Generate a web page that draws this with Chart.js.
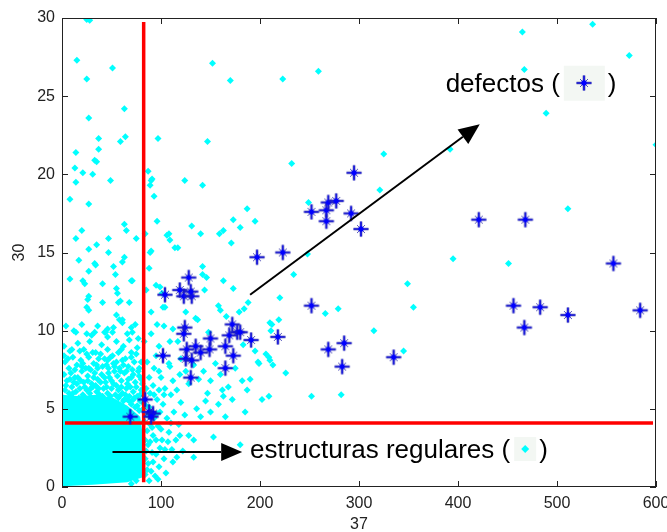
<!DOCTYPE html>
<html>
<head>
<meta charset="utf-8">
<script src="https://cdn.jsdelivr.net/npm/chart.js@4.4.1/dist/chart.umd.min.js"></script>
<style>
html,body{margin:0;padding:0;background:#fff}
#wrap{width:667px;height:532px}
</style>
</head>
<body>
<div id="wrap"><canvas id="scatter" width="667" height="532"></canvas></div>
<script>
// axis ticks
const xTicks = [0,100,200,300,400,500,600]
const yTicks = [0,5,10,15,20,25,30]

// defects (blue stars), [x, y]
const defectos = [
[69,4.5],[84,5.6],[88,4.8],[92,4.7],[90,4.5],
[102,8.4],[104,12.3],[119,12.6],[128,13.4],[123,12.2],[131,12.2],[130,12.5],
[124,10.2],[123,9.8],[126,8.8],[135,9.0],[140,8.6],[125,8.2],[131,8.1],[130,7.0],
[150,9.5],[149,8.8],[165,9.0],[173,8.4],[165,7.6],[172,10.4],[169,9.7],[177,9.9],[180,9.9],[191,9.4],[218,9.6],
[197,14.7],[223,15.0],
[252,17.6],[267,17.0],[267,17.7],[269,18.2],[277,18.3],[292,17.5],[302,16.5],[295,20.1],
[252,11.6],[269,8.8],[285,9.2],[283,7.7],[335,8.3],
[421,17.1],[468,17.1],[557,14.3],[456,11.6],[483,11.5],[511,11.0],[467,10.2],[584,11.3]
]

// regular structures (cyan diamonds): isolated points far from the cloud
const regularesDispersos = [
[25,29.9],[27,29.95],[28,29.85],[15,27.3],[51,26.8],[25,26.1],[63,24.2],[27,23.6],[37,22.3],[59,22.1],
[64,22.4],[97,22.3],[14,21.4],[37,21.6],[33,20.9],[35,20.8],[13,20.4],[21,20.1],[31,20.0],[49,19.6],
[14,19.5],[87,20.2],[91,19.7],[89,19.3],[8,18.4],[27,18.1],
[152,27.1],[170,26.0],[147,22.1],[223,26.1],[259,26.6],[232,20.7],[325,21.3],[124,19.6],[142,19.3],[321,19.0],
[465,29.1],[536,29.6],[467,26.7],[573,27.6],[489,23.9],[392,21.6],[600,21.9],[511,17.8],[395,14.6],[451,14.3],
[349,13.0],[355,11.5],[345,8.7],[249,18.2],[187,17.8],[195,17.0],[180,16.6],[248,14.9],[234,13.6],[220,12.1],
[188,11.8],[184,11.4],[279,11.4],[266,11.1],[210,10.5],[219,10.7],[315,10.0],[206,8.5],[210,8.1],[199,7.9],
[226,7.3],[202,5.6],[209,5.8],[252,5.8],[282,5.9]
]

// regular structures: middle band above the cloud
const regularesMedios = [
[90,19.6],[173,17.1],[63,16.8],[65,16.4],[131,16.7],[140,16.2],[108,16.2],[109,15.8],[159,16.2],[163,16.4],
[47,15.9],[75,15.9],[171,15.6],[117,15.3],[90,15.1],[47,15.0],[63,14.7],[61,14.4],[52,14.1],[142,14.1],
[142,13.6],[71,13.2],[99,12.8],[101,12.4],[146,13.4],[163,13.2],[173,12.7],[41,11.8],[57,11.8],[68,11.8],
[102,11.5],[55,11.0],[58,10.7],[61,10.5],[158,11.6],[160,11.3],[166,10.9],[179,11.2],[137,10.7],[44,9.9],
[46,10.1],[51,9.9],[71,9.9],[212,10.4],[211,10.0],[109,9.3],[117,9.3],[60,8.8],[70,8.6],[49,8.3],
[46,8.1],[52,7.9],[209,8.3],[213,7.8],[93,7.6],[98,7.4],[109,7.7],[119,7.2],[160,7.2],[162,6.2],
[182,6.8],[198,8.0],[147,6.0],[163,5.8],[187,6.2],
[20,16.4],[14,15.9],[35,15.5],[27,15.2],[17,14.5],[33,14.3],[34,14.2],[27,13.8],[54,13.6],[8,13.3],
[21,13.2],[23,13.0],[41,13.0],[70,13.2],[55,12.7],[56,12.4],[27,12.2],[26,12.0],[25,11.5],[27,11.3],
[59,11.9],[61,10.7],[70,10.2],[14,9.9],[25,9.8],[33,9.9],[43,9.9],[77,9.5],[89,15.0],[106,16.1],
[95,12.9],[104,11.5],[135,10.8],[144,12.6],[114,15.3],[93,18.6],[96,17.0],[84,16.2],[88,14.0],[85,12.6],
[90,11.2],[96,10.4]
]

// regular structures: fringe around the dense cloud
const regularesBorde = [
[4,10.3],[12,10.0],[20,10.4],[30,9.7],[36,10.3],[46,9.6],[52,10.2],[66,9.8],[74,10.4],
[2,9.0],[8,8.7],[16,9.2],[22,8.8],[28,9.3],[34,8.6],[40,9.1],[46,8.8],[55,9.3],[62,9.0],[68,9.4],[76,8.9],
[3,8.0],[7,7.6],[11,8.3],[15,7.8],[19,8.1],[24,7.6],[27,8.3],[32,7.9],[37,8.2],[41,7.7],[47,7.6],[55,8.0],
[58,7.6],[64,8.2],[67,7.7],[73,8.0],[78,7.6],
[2,7.2],[5,6.8],[9,7.3],[12,6.7],[16,7.0],[20,7.4],[22,6.7],[26,7.1],[30,6.6],[33,7.3],[36,6.9],[40,7.2],
[44,6.7],[48,7.0],[52,6.6],[56,7.1],[60,6.8],[63,7.3],[66,6.6],[70,7.0],[74,6.7],[78,7.1],[81,6.6],
[3,6.2],[7,6.0],[10,6.4],[14,6.1],[18,6.3],[21,5.9],[25,6.2],[28,6.0],[31,6.4],[35,6.1],[38,5.9],[42,6.3],
[46,6.0],[50,6.3],[54,5.9],[57,6.2],[61,6.0],[65,6.3],[68,5.8],[72,6.1],[76,5.8],[80,6.2],
[62,5.5],[66,5.6],[70,5.3],[73,5.7],[76,5.2],[79,5.5],[82,5.0],[78,4.9],
[84,0.8],[87,1.5],[85,2.3],[89,2.9],[86,3.6],[92,3.3],[95,2.1],[90,1.0],[93,4.4],[97,3.9],
[88,5.1],[96,5.6],[99,4.8],[101,3.0],[104,2.4],[98,1.3],[102,5.3],[106,4.4],[108,3.5],[110,5.9],
[113,4.8],[84,3.0],[86,4.6],[91,2.2],[94,0.7],[88,0.4],
[115,3.0],[118,4.0],[120,5.4],[124,4.6],[128,3.3],[133,3.0],[133,1.9],[136,5.0],[140,4.5],[145,5.5],
[150,4.8],[153,3.2],[158,5.3],[165,4.5],[172,5.6],[180,2.7],[185,4.8],[122,2.3],[112,1.6],[105,0.9],
[85,6.3],[88,7.0],[92,6.5],[86,8.0],[95,8.4],[100,7.0],[104,6.3],[108,7.9],[112,6.8],[116,6.2],
[120,8.2],[125,7.4],[128,6.6],[133,7.8],[138,6.9],[143,7.4],[150,6.8],[155,7.9],[168,6.4],[175,7.6],
[190,6.9],[83,9.3],[90,9.8],[98,9.0],[103,10.3],[112,10.1],[125,11.2],[148,9.9],[183,9.1],[195,8.7]
]

// regular structures: packed band right on top of the solid cloud
const regularesDensos = [
[1,5.7],[4,6.5],[6,5.6],[8,6.9],[9,5.8],[11,6.0],[13,7.0],[15,6.6],[17,5.7],[19,6.8],
[20,7.7],[23,6.4],[24,5.7],[26,6.8],[27,7.6],[29,6.3],[30,5.7],[32,7.0],[34,6.5],[36,7.6],
[37,6.3],[39,6.7],[41,5.8],[43,7.0],[45,6.4],[47,7.3],[49,5.8],[50,6.8],[53,7.4],[55,6.5],
[57,5.7],[59,7.4],[60,6.4],[62,7.8],[64,5.9],[67,6.9],[69,6.4],[71,7.5],[72,5.6],[75,6.4],
[77,7.4],[79,5.9],[80,6.9],[81,5.4],[74,5.1],[68,5.5],[63,5.6],[58,5.8],
[2,8.4],[6,8.2],[10,8.8],[13,7.5],[18,8.7],[21,7.9],[25,8.5],[29,7.5],[31,8.6],[35,7.8],
[39,8.5],[43,8.2],[45,7.8],[51,8.4],[53,7.7],[57,8.6],[61,8.1],[65,7.4],[70,8.3],[72,7.2],
[75,8.5],[80,8.0],
[83,4.2],[85,5.2],[87,2.7],[89,4.0],[91,3.8],[84,1.8],[86,1.1],[92,1.6],[95,3.0],[96,4.7],
[99,2.5],[100,3.7],[103,1.8],[97,0.5],[107,2.9],[110,4.1],[111,2.4],[116,1.9],[119,3.3],[93,5.9],
[89,6.0],[98,6.2],[103,5.9],[79,0.9],[75,0.4],[70,0.2]
]

// outline of the solid part of the regular cloud
const nucleoRegular = [
[0.5,0.05],[0.5,5.9],[18,5.8],[35,5.9],[52,5.7],[66,5.2],[79,4.5],[81,3.6],[82,1.5],[81,0.6],[66,0.3],[31,0.15]
]

// threshold lines
const umbralX = 82.5
const umbralY = 4.1

// arrows [x0, y0, x1, y1]
const flechas = [[190,12.3,422,23.2],[51,2.24,182,2.24]]

const toXY = a => a.map(p => ({x:p[0], y:p[1]}))

function crearEstrella(){
  const c = document.createElement('canvas')
  c.width = 18; c.height = 18
  const g = c.getContext('2d')
  const m = 9
  g.strokeStyle = 'rgba(50,50,140,0.85)'
  g.lineWidth = 2.6
  g.beginPath(); g.moveTo(m,1.5); g.lineTo(m,16.5); g.moveTo(1.5,m); g.lineTo(16.5,m); g.stroke()
  g.strokeStyle = '#0000ff'
  g.lineWidth = 1.2
  g.beginPath(); g.moveTo(m,1.5); g.lineTo(m,16.5); g.moveTo(1.5,m); g.lineTo(16.5,m); g.stroke()
  g.strokeStyle = 'rgba(40,40,170,0.8)'
  g.lineWidth = 1
  g.beginPath()
  g.moveTo(m-4,m-4); g.lineTo(m+4,m+4)
  g.moveTo(m+4,m-4); g.lineTo(m-4,m+4)
  g.stroke()
  g.fillStyle = '#0000ff'
  g.beginPath(); g.arc(m,m,2.7,0,Math.PI*2); g.fill()
  return c
}
const estrella = crearEstrella()

const fuente = '"Liberation Sans", Arial, sans-serif'

function flecha(ctx, x0, y0, x1, y1){
  const ang = Math.atan2(y1-y0, x1-x0)
  const largo = 21, ancho = 9
  const bx = x1 - Math.cos(ang)*largo, by = y1 - Math.sin(ang)*largo
  ctx.strokeStyle = '#000'
  ctx.lineWidth = 2
  ctx.beginPath(); ctx.moveTo(x0,y0); ctx.lineTo(bx,by); ctx.stroke()
  ctx.fillStyle = '#000'
  ctx.beginPath()
  ctx.moveTo(x1,y1)
  ctx.lineTo(bx + Math.sin(ang)*ancho, by - Math.cos(ang)*ancho)
  ctx.lineTo(bx - Math.sin(ang)*ancho, by + Math.cos(ang)*ancho)
  ctx.closePath(); ctx.fill()
}

function etiqueta(ctx, texto, px, py, marca){
  ctx.font = '26px ' + fuente
  ctx.textBaseline = 'middle'
  ctx.textAlign = 'left'
  ctx.fillStyle = '#000'
  ctx.fillText(texto, px, py)
  const w = ctx.measureText(texto).width
  const bw = marca == 'estrella' ? 41 : 22
  const bh = marca == 'estrella' ? 35 : 24
  const bx = px + w + 4
  ctx.fillStyle = '#f3f7f3'
  ctx.fillRect(bx, py - bh/2 - 2, bw, bh)
  const cx = bx + bw/2, cy = py - 2
  if (marca == 'estrella') {
    ctx.drawImage(estrella, Math.round(cx) - 9, Math.round(cy) - 9)
  } else {
    ctx.fillStyle = '#00ffff'
    ctx.beginPath()
    ctx.moveTo(cx-4,cy); ctx.lineTo(cx,cy-4); ctx.lineTo(cx+4,cy); ctx.lineTo(cx,cy+4)
    ctx.closePath(); ctx.fill()
  }
  ctx.fillStyle = '#000'
  ctx.fillText(')', bx + bw + 3, py)
}

const marcoPlugin = {
  id: 'marco',
  beforeDatasetsDraw(chart){
    const {ctx, chartArea: a, scales: {x, y}} = chart
    ctx.save()
    ctx.beginPath(); ctx.rect(a.left, a.top, a.width, a.height); ctx.clip()
    ctx.fillStyle = '#00ffff'
    ctx.beginPath()
    nucleoRegular.forEach((p, i) => {
      const px = x.getPixelForValue(p[0]), py = y.getPixelForValue(p[1])
      if (i) ctx.lineTo(px, py); else ctx.moveTo(px, py)
    })
    ctx.closePath(); ctx.fill()
    ctx.restore()
  },
  afterDatasetsDraw(chart){
    const {ctx, chartArea: a, scales: {x, y}} = chart
    ctx.save()
    // box and inward ticks on all four sides
    ctx.strokeStyle = '#222'
    ctx.lineWidth = 1
    ctx.strokeRect(a.left + 0.5, a.top + 0.5, a.width - 1, a.height - 1)
    ctx.beginPath()
    xTicks.forEach(v => {
      const px = Math.round(x.getPixelForValue(v)) + 0.5
      ctx.moveTo(px, a.bottom); ctx.lineTo(px, a.bottom - 6)
      ctx.moveTo(px, a.top); ctx.lineTo(px, a.top + 6)
    })
    yTicks.forEach(v => {
      const py = Math.round(y.getPixelForValue(v)) + 0.5
      ctx.moveTo(a.left, py); ctx.lineTo(a.left + 6, py)
      ctx.moveTo(a.right, py); ctx.lineTo(a.right - 6, py)
    })
    ctx.stroke()
    // arrows
    flechas.forEach(f => flecha(ctx,
      x.getPixelForValue(f[0]), y.getPixelForValue(f[1]),
      x.getPixelForValue(f[2]), y.getPixelForValue(f[3])))
    // labels
    etiqueta(ctx, 'defectos (', x.getPixelForValue(387.5), y.getPixelForValue(25.7), 'estrella')
    etiqueta(ctx, 'estructuras regulares (', x.getPixelForValue(190), y.getPixelForValue(2.3), 'rombo')
    ctx.restore()
  }
}

const rombo = {pointStyle:'rectRot', pointRadius:3.5, pointHoverRadius:3.5, backgroundColor:'#00ffff', borderWidth:0, order:3}

new Chart(document.getElementById('scatter'), {
  type: 'scatter',
  data: {
    datasets: [
      {label:'defectos', data: toXY(defectos), pointStyle: estrella, order: 0},
      {label:'umbral x', data: toXY([[umbralX,0.3],[umbralX,29.75]]), showLine:true, borderColor:'#ff0000', borderWidth:3.5, pointRadius:0, order:1},
      {label:'umbral y', data: toXY([[3,umbralY],[597,umbralY]]), showLine:true, borderColor:'#ff0000', borderWidth:3.5, pointRadius:0, order:1},
      Object.assign({label:'regulares densos', data: toXY(regularesDensos)}, rombo),
      Object.assign({label:'regulares borde', data: toXY(regularesBorde)}, rombo),
      Object.assign({label:'regulares medios', data: toXY(regularesMedios)}, rombo),
      Object.assign({label:'regulares dispersos', data: toXY(regularesDispersos)}, rombo)
    ]
  },
  options: {
    responsive: false,
    animation: false,
    devicePixelRatio: 1,
    layout: {padding: {top: 18, right: 11, left: 0, bottom: 0}},
    plugins: {legend: {display: false}, tooltip: {enabled: false}},
    scales: {
      x: {
        type: 'linear', min: 0, max: 600,
        afterBuildTicks: s => { s.ticks = xTicks.map(v => ({value: v})) },
        afterFit: s => { s.height = 45; s.paddingLeft = 0; s.paddingRight = 0 },
        grid: {display: false, drawTicks: false},
        border: {display: false},
        ticks: {autoSkip: false, maxRotation: 0, padding: 7, color: '#222', font: {family: fuente, size: 16}},
        title: {display: true, text: '37', color: '#222', font: {family: fuente, size: 16, lineHeight: 0.9}, padding: {top: 0, bottom: 0}}
      },
      y: {
        type: 'linear', min: 0, max: 30,
        afterBuildTicks: s => { s.ticks = yTicks.map(v => ({value: v})) },
        afterFit: s => { s.width = 62; s.paddingTop = 0; s.paddingBottom = 0 },
        grid: {display: false, drawTicks: false},
        border: {display: false},
        ticks: {padding: 7, color: '#222', font: {family: fuente, size: 16}},
        title: {display: true, text: '30', color: '#222', font: {family: fuente, size: 16, lineHeight: 1.2}, padding: {top: 10, bottom: 0}}
      }
    }
  },
  plugins: [marcoPlugin]
})
</script>
</body>
</html>
